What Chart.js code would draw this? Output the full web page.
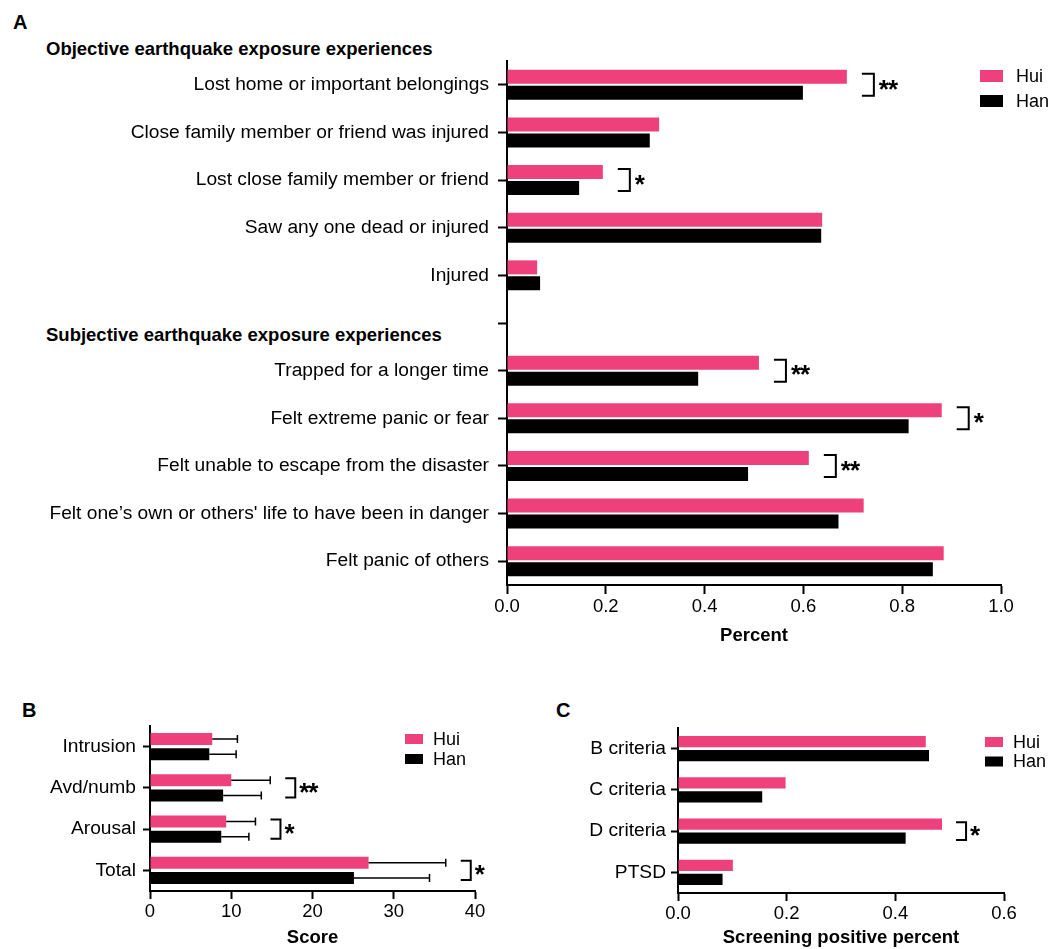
<!DOCTYPE html>
<html><head><meta charset="utf-8">
<script src="https://cdn.jsdelivr.net/npm/chart.js@4.4.1/dist/chart.umd.min.js"></script>
<style>
html,body{margin:0;padding:0;background:#fff;}
body{width:1064px;height:949px;position:relative;overflow:hidden;font-family:"Liberation Sans",Arial,sans-serif;color:#000;}
canvas{position:absolute;}
.lbl{position:absolute;font-weight:bold;white-space:nowrap;line-height:1;}
</style></head><body>
<div class="lbl" style="left:13px;top:12px;font-size:20px">A</div>
<div class="lbl" style="left:22px;top:700px;font-size:20px">B</div>
<div class="lbl" style="left:556px;top:700px;font-size:20px">C</div>
<div class="lbl" style="left:46px;top:40px;font-size:18.5px">Objective earthquake exposure experiences</div>
<div class="lbl" style="left:46px;top:326px;font-size:18.5px">Subjective earthquake exposure experiences</div>
<canvas id="cA" width="1064" height="660" style="left:0;top:0"></canvas>
<canvas id="cB" width="540" height="259" style="left:0;top:690px"></canvas>
<canvas id="cC" width="524" height="259" style="left:540px;top:690px"></canvas>
<script>
// ---------- data ----------
const seriesNames = ["Hui", "Han"];

const catsA = ["Lost home or important belongings", "Close family member or friend was injured",
  "Lost close family member or friend", "Saw any one dead or injured", "Injured", "",
  "Trapped for a longer time", "Felt extreme panic or fear", "Felt unable to escape from the disaster",
  "Felt one\u2019s own or others' life to have been in danger", "Felt panic of others"];
const huiA = [0.688, 0.308, 0.194, 0.638, 0.061, null, 0.510, 0.880, 0.611, 0.722, 0.884];
const hanA = [0.599, 0.289, 0.146, 0.636, 0.067, null, 0.387, 0.813, 0.488, 0.671, 0.862];
const sigA = ["**", "", "*", "", "", "", "**", "*", "**", "", ""];
const ticksA = [0, 0.2, 0.4, 0.6, 0.8, 1.0];

const catsB = ["Intrusion", "Avd/numb", "Arousal", "Total"];
const huiB = [7.66, 10.0, 9.38, 26.9];
const hanB = [7.3, 9.0, 8.77, 25.1];
const huiSdB = [3.1, 4.8, 3.6, 9.5];
const hanSdB = [3.3, 4.7, 3.4, 9.3];
const sigB = ["", "**", "*", "*"];
const ticksB = [0, 10, 20, 30, 40];

const catsC = ["B criteria", "C criteria", "D criteria", "PTSD"];
const huiC = [0.456, 0.198, 0.486, 0.101];
const hanC = [0.462, 0.155, 0.419, 0.082];
const sigC = ["", "", "*", ""];
const ticksC = [0, 0.2, 0.4, 0.6];

// ---------- styling ----------
const PINK = "#EE417B";
const FAM = '"Liberation Sans", Arial, sans-serif';
Chart.defaults.color = "#000";
Chart.defaults.font.family = FAM;

const errPlugin = {
  id: "errBars",
  afterDatasetsDraw(chart) {
    const ctx = chart.ctx, xs = chart.scales.x;
    chart.data.datasets.forEach((ds, di) => {
      if (!ds.errors) return;
      const meta = chart.getDatasetMeta(di);
      meta.data.forEach((el, i) => {
        const v = ds.data[i], e = ds.errors[i];
        if (v == null || e == null) return;
        const x1 = xs.getPixelForValue(v + e);
        ctx.save();
        ctx.strokeStyle = "#000"; ctx.lineWidth = 1.5;
        ctx.beginPath();
        ctx.moveTo(el.x, el.y); ctx.lineTo(x1, el.y);
        ctx.moveTo(x1, el.y - 4); ctx.lineTo(x1, el.y + 4);
        ctx.stroke();
        ctx.restore();
      });
    });
  }
};

const sigPlugin = {
  id: "sig",
  afterDatasetsDraw(chart, args, o) {
    if (!o || !o.labels) return;
    const ctx = chart.ctx, xs = chart.scales.x;
    const m0 = chart.getDatasetMeta(0), m1 = chart.getDatasetMeta(1);
    o.labels.forEach((lab, i) => {
      if (!lab) return;
      let maxEnd = -Infinity;
      chart.data.datasets.forEach(ds => {
        const v = ds.data[i]; if (v == null) return;
        const e = ds.errors ? ds.errors[i] : 0;
        maxEnd = Math.max(maxEnd, xs.getPixelForValue(v + e));
      });
      const x0 = maxEnd + o.gap, x1 = x0 + o.arm;
      const yT = m0.data[i].y - o.ext, yB = m1.data[i].y + o.ext;
      ctx.save();
      ctx.strokeStyle = "#000"; ctx.lineWidth = 2; ctx.lineJoin = "miter";
      ctx.beginPath();
      ctx.moveTo(x0, yT); ctx.lineTo(x1, yT); ctx.lineTo(x1, yB); ctx.lineTo(x0, yB);
      ctx.stroke();
      ctx.fillStyle = "#000";
      ctx.font = "bold " + o.fontSize + "px " + FAM;
      ctx.letterSpacing = o.ls + "px";
      ctx.textAlign = "left"; ctx.textBaseline = "alphabetic";
      ctx.fillText(lab, x1 + o.textDx, (yT + yB) / 2 + o.fontSize * 0.49);
      ctx.restore();
    });
  }
};

const legendPlugin = {
  id: "boxLegend",
  afterDraw(chart, args, o) {
    if (!o || o.x == null) return;
    const ctx = chart.ctx;
    chart.data.datasets.forEach((ds, i) => {
      const y = o.y + i * o.step;
      ctx.save();
      ctx.fillStyle = ds.backgroundColor;
      ctx.fillRect(o.x, y, o.w, o.h);
      ctx.fillStyle = "#000";
      ctx.font = o.fontSize + "px " + FAM;
      ctx.textAlign = "left"; ctx.textBaseline = "middle";
      ctx.fillText(ds.label, o.x + o.w + o.textDx, y + o.h / 2 + 1);
      ctx.restore();
    });
  }
};

function makeChart(id, cats, hui, han, o) {
  return new Chart(document.getElementById(id), {
    type: "bar",
    data: {
      labels: cats,
      datasets: [
        { label: seriesNames[0], data: hui, errors: o.huiErr, backgroundColor: PINK,
          categoryPercentage: o.cp, barPercentage: o.bp },
        { label: seriesNames[1], data: han, errors: o.hanErr, backgroundColor: "#000",
          categoryPercentage: o.cp, barPercentage: o.bp }
      ]
    },
    options: {
      indexAxis: "y", responsive: false, animation: false, devicePixelRatio: 1,
      layout: { padding: o.padding },
      plugins: {
        legend: { display: false }, tooltip: { enabled: false },
        boxLegend: o.legend, sig: o.sig
      },
      scales: {
        x: {
          type: "linear", min: o.ticks[0], max: o.ticks[o.ticks.length - 1],
          afterBuildTicks: s => { s.ticks = o.ticks.map(v => ({ value: v })); },
          afterFit: s => { s.height = o.xH; },
          ticks: { callback: v => v.toFixed(o.dec), font: { size: 18.5 }, color: "#000", padding: o.xPad, maxRotation: 0 },
          grid: { drawOnChartArea: false, tickLength: o.xTick, tickWidth: 2, tickColor: "#000", color: "#000" },
          border: { color: "#000", width: 2 },
          title: { display: true, text: o.title, color: "#000", font: { size: 18.5, weight: "bold" }, padding: 0 }
        },
        y: {
          afterFit: s => { s.width = o.yW; },
          ticks: { font: { size: 19.2 }, color: "#000", padding: o.yPad, autoSkip: false },
          grid: { offset: false, drawOnChartArea: false, tickLength: o.yTick, tickWidth: 2, tickColor: "#000", color: "#000" },
          border: { color: "#000", width: 2 }
        }
      }
    },
    plugins: [errPlugin, sigPlugin, legendPlugin]
  });
}

makeChart("cA", catsA, huiA, hanA, {
  cp: 0.672, bp: 0.875, padding: { left: 0, right: 63, top: 61, bottom: 13 },
  xH: 62, yW: 507, ticks: ticksA, dec: 1, title: "Percent", xPad: 2, xTick: 9, yPad: 9, yTick: 9,
  legend: { x: 980, y: 70, w: 23, h: 12, step: 25, textDx: 13, fontSize: 18 },
  sig: { labels: sigA, gap: 15, arm: 12, ext: 3, textDx: 5, fontSize: 26, ls: -1 }
});
makeChart("cB", catsB, huiB, hanB, {
  huiErr: huiSdB, hanErr: hanSdB,
  cp: 0.74, bp: 0.79, padding: { left: 0, right: 65, top: 36, bottom: 0 },
  xH: 58, yW: 150, ticks: ticksB, dec: 0, title: "Score", xPad: 2, xTick: 8, yPad: 7, yTick: 7,
  legend: { x: 405, y: 44, w: 18, h: 10, step: 20, textDx: 10, fontSize: 18 },
  sig: { labels: sigB, gap: 15, arm: 10, ext: 2, textDx: 4, fontSize: 26, ls: -1 }
});
makeChart("cC", catsC, huiC, hanC, {
  cp: 0.675, bp: 0.805, padding: { left: 0, right: 60, top: 38, bottom: 0 },
  xH: 56, yW: 138, ticks: ticksC, dec: 1, title: "Screening positive percent", xPad: 2, xTick: 8, yPad: 5, yTick: 7,
  legend: { x: 445, y: 47, w: 18, h: 10, step: 19.5, textDx: 10, fontSize: 18 },
  sig: { labels: sigC, gap: 14, arm: 10, ext: 2, textDx: 4, fontSize: 26, ls: -1 }
});
</script>
</body></html>
